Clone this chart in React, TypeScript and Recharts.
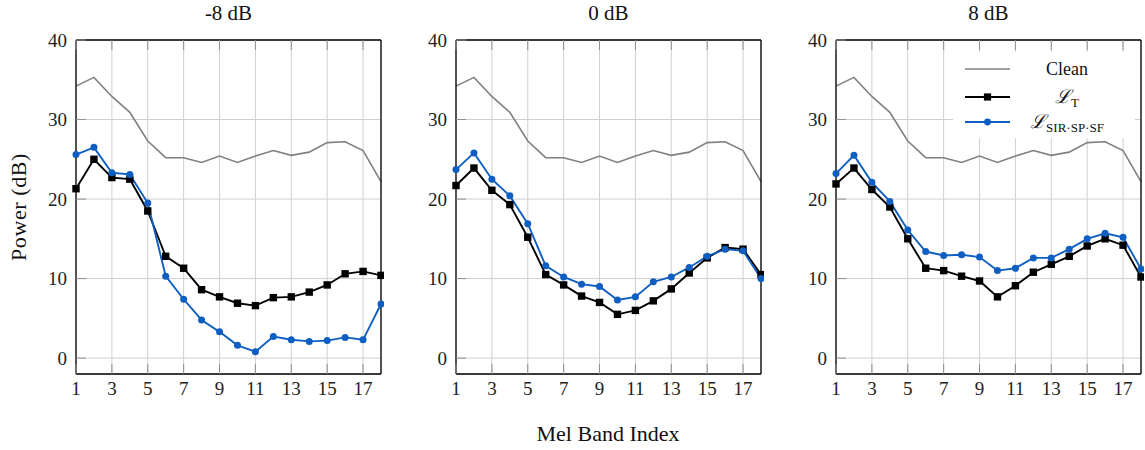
import React from 'react';
import { LineChart, Line, XAxis, YAxis, CartesianGrid, Legend } from 'recharts';

// ---------- data ----------
const melBands = [1, 2, 3, 4, 5, 6, 7, 8, 9, 10, 11, 12, 13, 14, 15, 16, 17, 18];
const xTicks = [1, 3, 5, 7, 9, 11, 13, 15, 17];
const yTicks = [0, 10, 20, 30, 40];
const panelTitles = ['-8 dB', '0 dB', '8 dB'];

const cleanPower = [34.2, 35.3, 32.9, 30.9, 27.3, 25.2, 25.2, 24.6, 25.4, 24.6, 25.4, 26.1, 25.5, 25.9, 27.1, 27.2, 26.1, 22.2];

const ltMinus8 = [21.3, 25.0, 22.7, 22.5, 18.5, 12.8, 11.3, 8.6, 7.7, 6.9, 6.6, 7.6, 7.7, 8.3, 9.2, 10.6, 10.9, 10.4];
const sirMinus8 = [25.6, 26.5, 23.3, 23.1, 19.5, 10.3, 7.4, 4.8, 3.3, 1.6, 0.8, 2.7, 2.3, 2.1, 2.2, 2.6, 2.3, 6.8];

const lt0 = [21.7, 23.9, 21.1, 19.3, 15.2, 10.5, 9.2, 7.8, 7.0, 5.5, 6.0, 7.2, 8.7, 10.7, 12.6, 13.9, 13.7, 10.5];
const sir0 = [23.7, 25.8, 22.5, 20.4, 16.9, 11.6, 10.2, 9.3, 9.0, 7.3, 7.7, 9.6, 10.2, 11.4, 12.8, 13.7, 13.5, 10.0];

const lt8 = [21.9, 23.9, 21.2, 19.0, 15.0, 11.3, 11.0, 10.3, 9.7, 7.7, 9.1, 10.8, 11.8, 12.8, 14.1, 15.0, 14.2, 10.2];
const sir8 = [23.2, 25.5, 22.1, 19.7, 16.1, 13.4, 12.9, 13.0, 12.7, 11.0, 11.3, 12.6, 12.6, 13.7, 15.0, 15.7, 15.2, 11.2];

const ltSeries = [ltMinus8, lt0, lt8];
const sirSeries = [sirMinus8, sir0, sir8];

// ---------- style ----------
const FONT = "'Liberation Serif', 'DejaVu Serif', serif";
const GRAY = '#808080';
const BLACK = '#000000';
const BLUE = '#0f5fc2';
const GRID = '#d0d0d0';
const TICK = '#8f8f8f';

const PLOT_LEFTS = [76, 456, 836];
const PLOT_W = 305;
const M_LEFT = 76;
const M_RIGHT = 3;
const M_TOP = 40;
const M_BOTTOM = 76;
const CH_H = 450;
const AX = 1; // thickness reserved for each axis band

const XBottomTick = (props: any) => {
  const { x, y, payload } = props;
  return (
    <g>
      <line x1={x} y1={y} x2={x} y2={y - 10} stroke={TICK} strokeWidth={1} />
      <text x={x} y={y + 20.5} textAnchor="middle" fontFamily={FONT} fontSize={19} fill="#222">
        {payload.value}
      </text>
    </g>
  );
};
const XTopTick = (props: any) => {
  const { x, y } = props;
  return <line x1={x} y1={y} x2={x} y2={y + 10} stroke={TICK} strokeWidth={1} />;
};
const YLeftTick = (props: any) => {
  const { x, y, payload } = props;
  return (
    <g>
      <line x1={x} y1={y} x2={x + 10} y2={y} stroke={TICK} strokeWidth={1} />
      <text x={x - 9} y={y + 6.5} textAnchor="end" fontFamily={FONT} fontSize={19} fill="#222">
        {payload.value}
      </text>
    </g>
  );
};
const YRightTick = (props: any) => {
  const { x, y } = props;
  return <line x1={x} y1={y} x2={x - 10} y2={y} stroke={TICK} strokeWidth={1} />;
};

const SquareDot = (props: any) => {
  const { cx, cy, index } = props;
  if (cx == null || cy == null) return <g key={`sq-${index}`} />;
  return <rect key={`sq-${index}`} x={cx - 3.7} y={cy - 3.7} width={7.4} height={7.4} fill={BLACK} />;
};

const LegendContent = (props: any) => {
  const payload = props.payload || [];
  const rowsY = [17, 45, 70];
  return (
    <svg width={182} height={86} style={{ display: 'block', background: '#fff' }}>
      {payload.map((entry: any, i: number) => {
        const y = rowsY[i];
        const key = entry.dataKey;
        return (
          <g key={key}>
            <line x1={12} x2={57} y1={y} y2={y} stroke={entry.color} strokeWidth={key === 'clean' ? 1.6 : 1.9} />
            {key === 'lt' && <rect x={34.5 - 3.6} y={y - 3.6} width={7.2} height={7.2} fill={BLACK} />}
            {key === 'sir' && <circle cx={34.5} cy={y} r={3.4} fill={BLUE} />}
            {key === 'clean' && (
              <text x={114} y={y + 6} textAnchor="middle" fontFamily={FONT} fontSize={18} fill="#111">
                Clean
              </text>
            )}
            {key === 'lt' && (
              <text x={114} y={y + 6} textAnchor="middle" fontFamily={FONT} fontSize={19} fill="#111">
                <tspan fontStyle="italic">ℒ</tspan>
                <tspan fontSize={13} dy={4}>T</tspan>
              </text>
            )}
            {key === 'sir' && (
              <text x={114} y={y + 6} textAnchor="middle" fontFamily={FONT} fontSize={19} fill="#111">
                <tspan fontStyle="italic">ℒ</tspan>
                <tspan fontSize={13} dy={4}>SIR·SP·SF</tspan>
              </text>
            )}
          </g>
        );
      })}
    </svg>
  );
};

const Panel = ({ idx }: { idx: number }) => {
  const data = melBands.map((b, i) => ({
    band: b,
    clean: cleanPower[i],
    lt: ltSeries[idx][i],
    sir: sirSeries[idx][i],
  }));
  const chartLeft = PLOT_LEFTS[idx] - M_LEFT;
  const chartW = M_LEFT + PLOT_W + M_RIGHT;
  return (
    <div style={{ position: 'absolute', left: chartLeft, top: 0 }}>
      <LineChart
        width={chartW}
        height={CH_H}
        data={data}
        margin={{ top: M_TOP - AX, right: M_RIGHT - AX, bottom: M_BOTTOM - AX, left: M_LEFT - AX }}
      >
        <CartesianGrid xAxisId="b" yAxisId="l" stroke={GRID} strokeWidth={1} />
        <XAxis
          xAxisId="b"
          dataKey="band"
          type="number"
          domain={[1, 18]}
          ticks={xTicks}
          orientation="bottom"
          height={AX}
          tickSize={0}
          tickMargin={0}
          tickLine={false}
          axisLine={{ stroke: BLACK, strokeWidth: 1.3 }}
          tick={XBottomTick}
          interval={0}
        />
        <XAxis
          xAxisId="t"
          dataKey="band"
          type="number"
          domain={[1, 18]}
          ticks={xTicks}
          orientation="top"
          height={AX}
          tickSize={0}
          tickMargin={0}
          tickLine={false}
          axisLine={{ stroke: BLACK, strokeWidth: 1.3 }}
          tick={XTopTick}
          interval={0}
        />
        <YAxis
          yAxisId="l"
          type="number"
          domain={[-2, 40]}
          ticks={yTicks}
          orientation="left"
          width={AX}
          tickSize={0}
          tickMargin={0}
          tickLine={false}
          axisLine={{ stroke: BLACK, strokeWidth: 1.3 }}
          tick={YLeftTick}
          interval={0}
        />
        <YAxis
          yAxisId="r"
          type="number"
          domain={[-2, 40]}
          ticks={yTicks}
          orientation="right"
          width={AX}
          tickSize={0}
          tickMargin={0}
          tickLine={false}
          axisLine={{ stroke: BLACK, strokeWidth: 1.3 }}
          tick={YRightTick}
          interval={0}
        />
        {idx === 2 && (
          <Legend
            layout="vertical"
            align="center"
            verticalAlign="middle"
            content={LegendContent}
            wrapperStyle={{ left: 193, top: 52, width: 182, height: 86 }}
          />
        )}
        <Line
          xAxisId="b"
          yAxisId="l"
          type="linear"
          dataKey="clean"
          name="Clean"
          stroke={GRAY}
          strokeWidth={1.6}
          dot={false}
          activeDot={false}
          isAnimationActive={false}
        />
        <Line
          xAxisId="b"
          yAxisId="l"
          type="linear"
          dataKey="lt"
          name="LT"
          stroke={BLACK}
          strokeWidth={1.9}
          dot={SquareDot}
          activeDot={false}
          isAnimationActive={false}
        />
        <Line
          xAxisId="b"
          yAxisId="l"
          type="linear"
          dataKey="sir"
          name="SIR"
          stroke={BLUE}
          strokeWidth={1.9}
          dot={{ r: 3.5, fill: BLUE, stroke: BLUE, strokeWidth: 0 }}
          activeDot={false}
          isAnimationActive={false}
        />
      </LineChart>
    </div>
  );
};

export default function App() {
  return (
    <div
      style={{
        position: 'absolute',
        left: 0,
        top: 0,
        width: 1145,
        height: 450,
        background: '#fff',
        overflow: 'hidden',
      }}
    >
      {[0, 1, 2].map((i) => (
        <Panel key={i} idx={i} />
      ))}
      <svg
        width={1145}
        height={450}
        style={{ position: 'absolute', left: 0, top: 0, pointerEvents: 'none' }}
      >
        {panelTitles.map((t, i) => (
          <text
            key={t}
            x={PLOT_LEFTS[i] + PLOT_W / 2}
            y={20}
            textAnchor="middle"
            fontFamily={FONT}
            fontSize={21}
            fill="#111"
          >
            {t}
          </text>
        ))}
        <text
          x={608}
          y={441}
          textAnchor="middle"
          fontFamily={FONT}
          fontSize={22}
          fill="#111"
        >
          Mel Band Index
        </text>
        <text
          transform="translate(26, 207) rotate(-90)"
          x={0}
          y={0}
          textAnchor="middle"
          fontFamily={FONT}
          fontSize={22}
          letterSpacing={0.6}
          fill="#111"
        >
          Power (dB)
        </text>
      </svg>
    </div>
  );
}
